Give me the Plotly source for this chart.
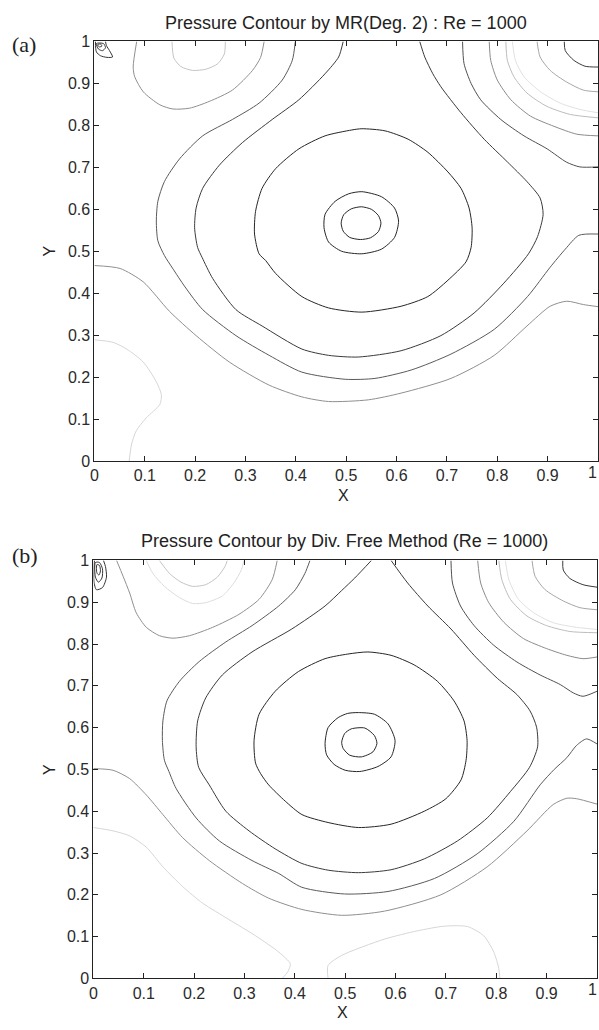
import plotly.graph_objects as go

# ---------------- data: panel (a) contour lines (x, y in data units) ----------------
A_G1_X = [0.0, 0.037, 0.064, 0.097, 0.123, 0.133, 0.130, 0.103, 0.083, 0.074, 0.069]
A_G1_Y = [0.289, 0.283, 0.267, 0.236, 0.189, 0.158, 0.135, 0.103, 0.072, 0.041, 0.0]

A_G2_X = [0.0, 0.051, 0.097, 0.149, 0.202, 0.268, 0.347, 0.412, 0.465, 0.544, 0.609, 0.708, 0.794, 0.859, 0.905, 0.938, 0.971, 1.0]
A_G2_Y = [0.466, 0.459, 0.427, 0.357, 0.299, 0.236, 0.181, 0.153, 0.142, 0.146, 0.162, 0.197, 0.252, 0.322, 0.369, 0.381, 0.373, 0.368]

A_D1_X = [0.399, 0.393, 0.373, 0.327, 0.274, 0.215, 0.169, 0.139, 0.126, 0.123, 0.126, 0.139, 0.155, 0.180, 0.215, 0.281, 0.347, 0.412, 0.498, 0.557, 0.629, 0.708, 0.794, 0.860, 0.905, 0.935, 0.962, 1.0]
A_D1_Y = [1.0, 0.955, 0.908, 0.853, 0.814, 0.775, 0.720, 0.666, 0.619, 0.572, 0.525, 0.490, 0.460, 0.415, 0.361, 0.299, 0.252, 0.212, 0.195, 0.197, 0.217, 0.255, 0.314, 0.392, 0.462, 0.505, 0.538, 0.541]

A_D2_X = [0.494, 0.485, 0.458, 0.406, 0.353, 0.294, 0.248, 0.215, 0.202, 0.199, 0.205, 0.214, 0.235, 0.281, 0.333, 0.412, 0.465, 0.524, 0.609, 0.688, 0.754, 0.813, 0.862, 0.880, 0.891, 0.885, 0.859, 0.820, 0.774, 0.728, 0.688, 0.672, 0.656, 0.646]
A_D2_Y = [1.0, 0.963, 0.923, 0.861, 0.814, 0.759, 0.705, 0.650, 0.603, 0.556, 0.509, 0.485, 0.435, 0.361, 0.322, 0.267, 0.252, 0.248, 0.263, 0.299, 0.353, 0.424, 0.494, 0.535, 0.588, 0.627, 0.666, 0.713, 0.767, 0.830, 0.892, 0.923, 0.963, 1.0]

A_R3_X = [0.327, 0.318, 0.320, 0.333, 0.360, 0.406, 0.458, 0.511, 0.531, 0.577, 0.623, 0.662, 0.702, 0.728, 0.744, 0.750, 0.748, 0.738, 0.702, 0.662, 0.609, 0.531, 0.465, 0.412, 0.360, 0.340, 0.327]
A_R3_Y = [0.494, 0.541, 0.595, 0.650, 0.697, 0.744, 0.775, 0.789, 0.792, 0.787, 0.767, 0.736, 0.689, 0.650, 0.603, 0.556, 0.509, 0.475, 0.431, 0.392, 0.369, 0.355, 0.365, 0.392, 0.447, 0.478, 0.494]

A_R2_X = [0.531, 0.570, 0.596, 0.604, 0.596, 0.570, 0.531, 0.491, 0.465, 0.456, 0.458, 0.478, 0.505, 0.531]
A_R2_Y = [0.642, 0.630, 0.603, 0.572, 0.533, 0.505, 0.494, 0.500, 0.522, 0.556, 0.588, 0.619, 0.637, 0.642]

A_R1_X = [0.530, 0.550, 0.564, 0.569, 0.564, 0.548, 0.528, 0.507, 0.494, 0.490, 0.495, 0.510, 0.530]
A_R1_Y = [0.606, 0.600, 0.585, 0.567, 0.547, 0.532, 0.528, 0.533, 0.548, 0.567, 0.587, 0.601, 0.606]

A_UG_X = [0.084, 0.077, 0.080, 0.097, 0.130, 0.156, 0.189, 0.228, 0.274, 0.314, 0.330, 0.337]
A_UG_Y = [1.0, 0.939, 0.916, 0.880, 0.849, 0.839, 0.841, 0.857, 0.884, 0.931, 0.962, 1.0]

A_UL_X = [0.154, 0.158, 0.172, 0.195, 0.222, 0.245, 0.258, 0.260]
A_UL_Y = [1.0, 0.960, 0.940, 0.931, 0.934, 0.947, 0.970, 1.0]

A_D3_X = [0.731, 0.734, 0.748, 0.767, 0.807, 0.853, 0.899, 0.938, 0.964, 1.0]
A_D3_Y = [1.0, 0.947, 0.900, 0.861, 0.814, 0.775, 0.744, 0.712, 0.701, 0.701]

A_G3_X = [0.784, 0.787, 0.800, 0.827, 0.866, 0.912, 0.958, 1.0]
A_G3_Y = [1.0, 0.955, 0.908, 0.861, 0.822, 0.798, 0.779, 0.775]

A_L4_X = [0.817, 0.820, 0.833, 0.859, 0.899, 0.945, 1.0]
A_L4_Y = [1.0, 0.955, 0.916, 0.877, 0.845, 0.826, 0.818]

A_L5_X = [0.830, 0.836, 0.853, 0.886, 0.925, 0.964, 1.0]
A_L5_Y = [1.0, 0.955, 0.916, 0.880, 0.853, 0.838, 0.830]

A_L6_X = [0.879, 0.885, 0.905, 0.938, 0.971, 1.0]
A_L6_Y = [1.0, 0.963, 0.931, 0.903, 0.884, 0.880]

A_C7_X = [0.933, 0.935, 0.952, 0.974, 1.0]
A_C7_Y = [1.0, 0.978, 0.955, 0.941, 0.939]

A_V1_X = [0.002, 0.004, 0.012, 0.025, 0.036, 0.030, 0.024, 0.022]
A_V1_Y = [1.0, 0.975, 0.966, 0.962, 0.963, 0.978, 0.990, 1.0]
A_V2_X = [0.004, 0.008, 0.016, 0.022, 0.018, 0.004]
A_V2_Y = [0.995, 0.982, 0.978, 0.985, 0.995, 0.995]
A_V3_X = [0.006, 0.010, 0.015, 0.012, 0.006]
A_V3_Y = [0.992, 0.987, 0.989, 0.994, 0.992]

# ---------------- data: panel (b) contour lines ----------------
B_G1L_X = [0.0, 0.039, 0.072, 0.105, 0.138, 0.177, 0.217, 0.269, 0.322, 0.368, 0.391, 0.386, 0.375]
B_G1L_Y = [0.361, 0.353, 0.341, 0.314, 0.267, 0.220, 0.180, 0.141, 0.102, 0.063, 0.035, 0.016, 0.0]

B_G1R_X = [0.466, 0.466, 0.493, 0.578, 0.644, 0.697, 0.743, 0.775, 0.795, 0.805, 0.807]
B_G1R_Y = [0.0, 0.031, 0.055, 0.094, 0.114, 0.125, 0.124, 0.102, 0.063, 0.024, 0.0]

B_G2_X = [0.0, 0.039, 0.072, 0.105, 0.138, 0.177, 0.230, 0.296, 0.348, 0.414, 0.493, 0.578, 0.690, 0.782, 0.861, 0.913, 0.940, 0.959, 1.0]
B_G2_Y = [0.502, 0.498, 0.478, 0.439, 0.392, 0.337, 0.282, 0.227, 0.192, 0.165, 0.151, 0.161, 0.200, 0.267, 0.353, 0.416, 0.431, 0.430, 0.417]

B_D1_X = [0.430, 0.420, 0.401, 0.368, 0.315, 0.263, 0.210, 0.171, 0.146, 0.138, 0.137, 0.141, 0.150, 0.164, 0.204, 0.250, 0.315, 0.368, 0.414, 0.499, 0.585, 0.677, 0.762, 0.835, 0.887, 0.915, 0.940, 0.959, 0.979, 1.0]
B_D1_Y = [1.0, 0.969, 0.930, 0.891, 0.844, 0.805, 0.758, 0.711, 0.664, 0.616, 0.569, 0.522, 0.495, 0.455, 0.384, 0.329, 0.282, 0.251, 0.218, 0.202, 0.208, 0.239, 0.298, 0.376, 0.463, 0.500, 0.528, 0.557, 0.573, 0.561]

B_D2_X = [0.552, 0.519, 0.493, 0.460, 0.394, 0.315, 0.256, 0.223, 0.207, 0.204, 0.209, 0.230, 0.263, 0.309, 0.361, 0.414, 0.466, 0.526, 0.591, 0.657, 0.723, 0.782, 0.828, 0.866, 0.882, 0.880, 0.867, 0.841, 0.802, 0.756, 0.710, 0.664, 0.624, 0.591]
B_D2_Y = [1.0, 0.958, 0.928, 0.891, 0.836, 0.781, 0.726, 0.671, 0.616, 0.554, 0.505, 0.463, 0.400, 0.353, 0.310, 0.275, 0.259, 0.253, 0.260, 0.286, 0.329, 0.384, 0.447, 0.505, 0.554, 0.601, 0.640, 0.679, 0.718, 0.773, 0.836, 0.891, 0.946, 1.0]

B_R3_X = [0.332, 0.322, 0.319, 0.329, 0.361, 0.407, 0.460, 0.505, 0.545, 0.591, 0.637, 0.683, 0.716, 0.736, 0.742, 0.740, 0.730, 0.700, 0.657, 0.591, 0.526, 0.466, 0.414, 0.381, 0.348, 0.332]
B_R3_Y = [0.490, 0.515, 0.569, 0.632, 0.687, 0.734, 0.765, 0.776, 0.781, 0.773, 0.750, 0.711, 0.664, 0.616, 0.569, 0.522, 0.475, 0.430, 0.400, 0.369, 0.361, 0.373, 0.392, 0.424, 0.463, 0.490]

B_R2_X = [0.526, 0.558, 0.585, 0.599, 0.591, 0.565, 0.529, 0.500, 0.478, 0.463, 0.460, 0.466, 0.486, 0.505, 0.526]
B_R2_Y = [0.636, 0.632, 0.609, 0.569, 0.530, 0.507, 0.495, 0.498, 0.512, 0.535, 0.562, 0.600, 0.624, 0.634, 0.636]

B_R1_X = [0.512, 0.539, 0.558, 0.563, 0.555, 0.532, 0.509, 0.496, 0.493, 0.499, 0.512]
B_R1_Y = [0.597, 0.599, 0.581, 0.562, 0.542, 0.530, 0.534, 0.550, 0.565, 0.586, 0.597]

B_UG_X = [0.046, 0.059, 0.072, 0.085, 0.105, 0.131, 0.158, 0.191, 0.237, 0.289, 0.329, 0.355, 0.365]
B_UG_Y = [1.0, 0.962, 0.922, 0.875, 0.840, 0.820, 0.814, 0.820, 0.840, 0.871, 0.907, 0.954, 1.0]

B_ULI_X = [0.131, 0.151, 0.174, 0.197, 0.223, 0.246, 0.261, 0.266]
B_ULI_Y = [1.0, 0.969, 0.948, 0.938, 0.942, 0.960, 0.985, 1.0]

B_ULO_X = [0.105, 0.118, 0.141, 0.171, 0.197, 0.223, 0.256, 0.279, 0.294, 0.299]
B_ULO_Y = [1.0, 0.969, 0.938, 0.911, 0.897, 0.899, 0.915, 0.946, 0.978, 1.0]

B_D3_X = [0.710, 0.713, 0.729, 0.756, 0.795, 0.841, 0.887, 0.927, 0.953, 0.972, 1.0]
B_D3_Y = [1.0, 0.946, 0.891, 0.844, 0.797, 0.757, 0.726, 0.703, 0.683, 0.675, 0.687]

B_G3_X = [0.763, 0.769, 0.785, 0.815, 0.854, 0.900, 0.940, 0.972, 1.0]
B_G3_Y = [1.0, 0.946, 0.899, 0.852, 0.813, 0.789, 0.773, 0.765, 0.769]

B_L4_X = [0.805, 0.811, 0.828, 0.861, 0.900, 0.946, 1.0]
B_L4_Y = [1.0, 0.954, 0.907, 0.867, 0.844, 0.830, 0.827]

B_L5_X = [0.818, 0.825, 0.844, 0.874, 0.913, 0.959, 1.0]
B_L5_Y = [1.0, 0.954, 0.907, 0.875, 0.851, 0.840, 0.835]

B_L6_X = [0.871, 0.877, 0.897, 0.933, 0.966, 1.0]
B_L6_Y = [1.0, 0.962, 0.930, 0.903, 0.887, 0.882]

B_C7_X = [0.932, 0.933, 0.946, 0.972, 1.0]
B_C7_Y = [1.0, 0.977, 0.957, 0.942, 0.936]

B_V1_X = [0.002, 0.001, 0.006, 0.018, 0.026, 0.024, 0.020]
B_V1_Y = [1.0, 0.950, 0.930, 0.935, 0.960, 0.985, 1.0]
B_V2_X = [0.004, 0.004, 0.010, 0.017, 0.018, 0.012, 0.004]
B_V2_Y = [0.995, 0.960, 0.948, 0.958, 0.980, 0.995, 0.995]
B_V3_X = [0.007, 0.007, 0.011, 0.014, 0.012, 0.007]
B_V3_Y = [0.990, 0.970, 0.965, 0.975, 0.988, 0.990]

TICK_VALS = [0, 0.1, 0.2, 0.3, 0.4, 0.5, 0.6, 0.7, 0.8, 0.9, 1]
TICK_TEXT = ["0", "0.1", "0.2", "0.3", "0.4", "0.5", "0.6", "0.7", "0.8", "0.9", "1"]

TITLE_A = "Pressure Contour by MR(Deg. 2) : Re = 1000"
TITLE_B = "Pressure Contour by Div. Free Method (Re = 1000)"

# ---------------- styles ----------------
COLORS = {
    "ring": "#262626", "d2": "#3a3a3a", "d1": "#5a5a5a", "g2": "#8f8f8f",
    "g1": "#d6d6d6", "ug": "#8f8f8f", "ul": "#c4c4c4", "ulo": "#dcdcdc",
    "d3": "#505050", "g3": "#8a8a8a", "l4": "#bcbcbc", "l5": "#e0e0e0",
    "l6": "#a6a6a6", "c7": "#3a3a3a", "v": "#333333",
}

PANEL_A = [
    (A_G1_X, A_G1_Y, "g1"), (A_G2_X, A_G2_Y, "g2"), (A_D1_X, A_D1_Y, "d1"),
    (A_D2_X, A_D2_Y, "d2"), (A_R3_X, A_R3_Y, "ring"), (A_R2_X, A_R2_Y, "ring"),
    (A_R1_X, A_R1_Y, "ring"), (A_UG_X, A_UG_Y, "ug"), (A_UL_X, A_UL_Y, "ul"),
    (A_D3_X, A_D3_Y, "d3"), (A_G3_X, A_G3_Y, "g3"), (A_L4_X, A_L4_Y, "l4"),
    (A_L5_X, A_L5_Y, "l5"), (A_L6_X, A_L6_Y, "l6"), (A_C7_X, A_C7_Y, "c7"),
    (A_V1_X, A_V1_Y, "v"), (A_V2_X, A_V2_Y, "v"), (A_V3_X, A_V3_Y, "v"),
]
PANEL_B = [
    (B_G1L_X, B_G1L_Y, "g1"), (B_G1R_X, B_G1R_Y, "g1"), (B_G2_X, B_G2_Y, "g2"),
    (B_D1_X, B_D1_Y, "d1"), (B_D2_X, B_D2_Y, "d2"), (B_R3_X, B_R3_Y, "ring"),
    (B_R2_X, B_R2_Y, "ring"), (B_R1_X, B_R1_Y, "ring"), (B_UG_X, B_UG_Y, "ug"),
    (B_ULI_X, B_ULI_Y, "ul"), (B_ULO_X, B_ULO_Y, "ulo"), (B_D3_X, B_D3_Y, "d3"),
    (B_G3_X, B_G3_Y, "g3"), (B_L4_X, B_L4_Y, "l4"), (B_L5_X, B_L5_Y, "l5"),
    (B_L6_X, B_L6_Y, "l6"), (B_C7_X, B_C7_Y, "c7"),
    (B_V1_X, B_V1_Y, "v"), (B_V2_X, B_V2_Y, "v"), (B_V3_X, B_V3_Y, "v"),
]

fig = go.Figure()
for lines, xa, ya in ((PANEL_A, "x", "y"), (PANEL_B, "x2", "y2")):
    for xs, ys, key in lines:
        fig.add_trace(go.Scatter(
            x=xs, y=ys, mode="lines", xaxis=xa, yaxis=ya,
            line=dict(color=COLORS[key], width=1, shape="spline", smoothing=0.7),
            hoverinfo="skip", showlegend=False))

W, H = 599, 1030
FONT = "Liberation Sans, Arial, Helvetica, sans-serif"
TICK_FONT = dict(family=FONT, size=16, color="#2a2a2a")
axis_common = dict(
    range=[0, 1], tickvals=TICK_VALS, ticks="inside", ticklen=5,
    tickwidth=1, tickcolor="#222", showline=True, linecolor="#222", linewidth=1,
    mirror="ticks", showgrid=False, zeroline=False, tickfont=TICK_FONT,
)
# the last x label ("1") sits at the very right edge of the page; it is drawn
# right-aligned as an annotation so it is not clipped
x_text = TICK_TEXT[:-1] + [""]

fig.update_layout(
    width=W, height=H, autosize=False,
    margin=dict(l=0, r=0, t=0, b=0),
    paper_bgcolor="white", plot_bgcolor="white",
    xaxis=dict(domain=[91 / W, 598 / W], anchor="y", ticktext=x_text, **axis_common),
    yaxis=dict(domain=[1 - 460.7 / H, 1 - 34 / H], anchor="x", ticktext=TICK_TEXT, **axis_common),
    xaxis2=dict(domain=[90 / W, 597 / W], anchor="y2", ticktext=x_text, **axis_common),
    yaxis2=dict(domain=[1 - 986.7 / H, 1 - 561.7 / H], anchor="x2", ticktext=TICK_TEXT, **axis_common),
)

def ann(text, x, y, size, family=FONT, angle=0, xanchor="center"):
    fig.add_annotation(text=text, x=x / W, y=1 - y / H, xref="paper", yref="paper",
                       showarrow=False, xanchor=xanchor, yanchor="middle",
                       textangle=angle, font=dict(family=family, size=size, color="#222"))

ann(TITLE_A, 344, 15, 18)
ann(TITLE_B, 343, 542, 18)
ann("(a)", 20, 37, 22, family="Liberation Serif, Times New Roman, serif")
ann("(b)", 21, 557, 22, family="Liberation Serif, Times New Roman, serif")
ann("X", 342, 496, 16)
ann("X", 341, 1021, 16)
ann("Y", 46, 247, 16, angle=-90)
ann("Y", 46, 774, 16, angle=-90)

# last x tick label of each panel, right-aligned at the page edge, below y = 0
for yr in ("y", "y2"):
    fig.add_annotation(text=TICK_TEXT[-1], x=1.0, y=0, xref="paper", yref=yr,
                       showarrow=False, xanchor="right", yanchor="top", xshift=-1, yshift=-2,
                       borderpad=0, font=TICK_FONT)

# remove the default page margin so the 599x1030 figure fills the window exactly
fig.write_html("out.html", config={"displayModeBar": False},
               post_script="document.body.style.margin='0';document.body.style.overflow='hidden';")
